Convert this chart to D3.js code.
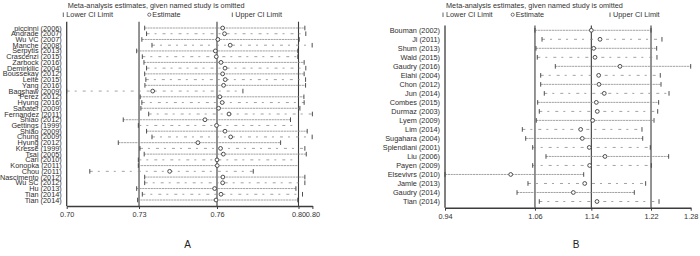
<!DOCTYPE html>
<html>
<head>
<meta charset="utf-8">
<script src="https://cdn.jsdelivr.net/npm/d3@7"></script>
<style>
body { margin: 0; background: #fff; }
text { font-family: "Liberation Sans", Arial, sans-serif; fill: #333; }
</style>
</head>
<body>
<script>
// panel A data
var studiesA = ["piccinni (2006)", "Andrade (2007)", "Wu VC (2007)", "Manche (2008)", "Serpytis (2013)",
    "Crascenzi (2015)", "Zarbock (2016)", "Demirkilic (2004)", "Boussekay (2012)", "Leite (2015)",
    "Yang (2016)", "Bagshaw (2009)", "Perez (2012)", "Hyung (2016)", "Sabater (2009)",
    "Fernandez (2011)", "Shiao (2012)", "Gettings (1999)", "Shiao (2009)", "Chung (2009)",
    "Hyung (2012)", "Kresse (1999)", "Tsai (2005)", "Cari (2010)", "Konopka (2011)",
    "Chou (2011)", "Nascimento (2012)", "Wu SC (2012)", "Hu (2013)", "Tian (2014)", "Tian (2014)"];
var lowerA = [0.7331, 0.7339, 0.7319, 0.7362, 0.7297, 0.7321, 0.7328, 0.7339, 0.7331, 0.7336,
    0.7332, 0.7000, 0.7312, 0.7319, 0.7315, 0.7348, 0.7240, 0.7304, 0.7339, 0.7362,
    0.7219, 0.7311, 0.7329, 0.7304, 0.7304, 0.7098, 0.7331, 0.7331, 0.7297, 0.7321, 0.7301];
var estA = [0.7662, 0.7670, 0.7642, 0.7694, 0.7631, 0.7635, 0.7655, 0.7672, 0.7662, 0.7673,
    0.7666, 0.7365, 0.7650, 0.7660, 0.7645, 0.7689, 0.7587, 0.7636, 0.7672, 0.7696,
    0.7557, 0.7653, 0.7665, 0.7638, 0.7639, 0.7437, 0.7663, 0.7662, 0.7628, 0.7655, 0.7634];
var upperA = [0.8011, 0.8015, 0.7987, 0.8042, 0.7981, 0.7981, 0.8008, 0.8015, 0.8008, 0.8014,
    0.8014, 0.7748, 0.8007, 0.8008, 0.7990, 0.8043, 0.7950, 0.7984, 0.8021, 0.8042,
    0.7908, 0.8011, 0.8017, 0.7984, 0.7984, 0.7792, 0.8011, 0.8011, 0.7973, 0.8001, 0.7981];
var overallA = [0.7307, 0.7638, 0.7984];
var ticksA = [0.7000, 0.7307, 0.7638, 0.7984, 0.8043];

// panel B data
var studiesB = ["Bouman (2002)", "Ji (2011)", "Shum (2013)", "Wald (2015)", "Gaudry (2016)",
    "Elahi (2004)", "Chon (2012)", "Jun (2014)", "Combes (2015)", "Durmaz (2003)",
    "Lyem (2009)", "Lim (2014)", "Sugahara (2004)", "Splendiani (2001)", "Liu (2006)",
    "Payen (2009)", "Elsevivrs (2010)", "Jamle (2013)", "Gaudry (2014)", "Tian (2014)"];
var lowerB = [1.0644, 1.0740, 1.0658, 1.0676, 1.0921, 1.0722, 1.0722, 1.0771, 1.0681, 1.0703,
    1.0662, 1.0472, 1.0518, 1.0613, 1.0794, 1.0613, 0.9420, 1.0549, 1.0400, 1.0703];
var estB = [1.1411, 1.1529, 1.1443, 1.1461, 1.1801, 1.1511, 1.1515, 1.1587, 1.1479, 1.1492,
    1.1429, 1.1266, 1.1288, 1.1383, 1.1597, 1.1388, 1.0314, 1.1321, 1.1166, 1.1488];
var upperB = [1.2223, 1.2372, 1.2300, 1.2304, 1.2763, 1.2349, 1.2359, 1.2468, 1.2327, 1.2314,
    1.2264, 1.2100, 1.2110, 1.2213, 1.2463, 1.2227, 1.1307, 1.2150, 1.1996, 1.2332];
var overallB = [1.0644, 1.1411, 1.2223];
var ticksB = [0.9420, 1.0644, 1.1411, 1.2223, 1.2763];

var svg = d3.select("body")
    .append("svg")
    .attr("width", 700)
    .attr("height", 256)
    .style("display", "block");

var fmt = d3.format(".2f");
var dark = "#3c3c3c";

function drawPanel(p) {
    var x = d3.scaleLinear().domain([p.ticks[0], p.ticks[p.ticks.length - 1]]).range([p.x0, p.x1]);
    var y = d3.scaleLinear().domain([0, p.studies.length - 1]).range([p.y0, p.y1]);
    var g = svg.append("g");

    // title and legend
    g.append("text").attr("x", p.x0 + 1).attr("y", 7.5)
        .style("font-size", "7.3px").text("Meta-analysis estimates, given named study is omitted");
    var leg = [
        {kind: "bar", x: p.legX[0], label: "Lower CI Limit"},
        {kind: "circle", x: p.legX[1], label: "Estimate"},
        {kind: "bar", x: p.legX[2], label: "Upper CI Limit"}
    ];
    leg.forEach(function (d) {
        if (d.kind == "bar") {
            g.append("line").attr("x1", d.x).attr("x2", d.x).attr("y1", 12.5).attr("y2", 17)
                .attr("stroke", dark).attr("stroke-width", 0.8);
        } else {
            g.append("circle").attr("cx", d.x).attr("cy", 14.7).attr("r", 1.6)
                .attr("fill", "none").attr("stroke", dark).attr("stroke-width", 0.7);
        }
        g.append("text").attr("x", d.x + 3).attr("y", 17.3)
            .style("font-size", "7.3px").text(d.label);
    });

    // overall lines
    g.selectAll(".overall").data(p.overall).enter().append("line")
        .attr("x1", function (d) { return x(d); }).attr("x2", function (d) { return x(d); })
        .attr("y1", p.top).attr("y2", p.base)
        .attr("stroke", dark).attr("stroke-width", 1.1);

    // y axis line
    g.append("line").attr("x1", p.x0).attr("x2", p.x0).attr("y1", p.top).attr("y2", p.base)
        .attr("stroke", dark).attr("stroke-width", 1.3);

    // x axis
    var xAxis = d3.axisBottom(x).tickValues(p.ticks).tickSize(3).tickSizeOuter(0).tickFormat(fmt);
    var ax = g.append("g").attr("transform", "translate(0," + p.base + ")").call(xAxis);
    ax.select(".domain").attr("stroke", dark).attr("stroke-width", 1.5);
    ax.selectAll(".tick line").attr("stroke", dark);
    ax.selectAll("text").attr("y", 6).style("font-size", "7.3px").style("fill", "#333")
        .style("font-family", "Liberation Sans, Arial, sans-serif");

    // study labels (they overlap in panel A, as in the source figure)
    g.selectAll(".lab").data(p.studies).enter().append("text")
        .attr("x", p.labX).attr("y", function (d, i) { return y(i); })
        .attr("dy", "0.35em").attr("text-anchor", "end")
        .style("font-size", "7.3px").style("fill", "#2e2e2e").text(function (d) { return d; });

    var rows = p.studies.map(function (s, i) {
        return {i: i, lo: p.lower[i], est: p.est[i], hi: p.upper[i]};
    });

    // CI lines
    g.selectAll(".ci").data(rows).enter().append("line")
        .attr("x1", function (d) { return x(d.lo); }).attr("x2", function (d) { return x(d.hi); })
        .attr("y1", function (d) { return y(d.i); }).attr("y2", function (d) { return y(d.i); })
        .attr("stroke", "#8a8a8a").attr("stroke-width", 0.8)
        .attr("stroke-dasharray", function (d) { return d.i % 2 == 0 ? "2.2,0.6" : "3,5,2,6"; });

    // end bars
    ["lo", "hi"].forEach(function (k) {
        g.selectAll(".bar" + k).data(rows).enter().append("line")
            .attr("x1", function (d) { return x(d[k]); }).attr("x2", function (d) { return x(d[k]); })
            .attr("y1", function (d) { return y(d.i) - 2.3; }).attr("y2", function (d) { return y(d.i) + 2.3; })
            .attr("stroke", dark).attr("stroke-width", 0.9);
    });

    // estimates
    g.selectAll(".est").data(rows).enter().append("circle")
        .attr("cx", function (d) { return x(d.est); }).attr("cy", function (d) { return y(d.i); })
        .attr("r", 1.9).attr("fill", "#fff").attr("stroke", dark).attr("stroke-width", 0.9);

    // panel letter
    g.append("text").attr("x", p.letterX).attr("y", 248).attr("text-anchor", "middle")
        .style("font-size", "10px").style("fill", "#222").text(p.letter);
}

drawPanel({studies: studiesA, lower: lowerA, est: estA, upper: upperA, overall: overallA, ticks: ticksA,
    x0: 66.7, x1: 312.4, y0: 28, y1: 200, top: 21.7, base: 206, labX: 61.7,
    legX: [63.3, 149.3, 232.3], letter: "A", letterX: 187.5});

drawPanel({studies: studiesB, lower: lowerB, est: estB, upper: upperB, overall: overallB, ticks: ticksB,
    x0: 445, x1: 690.7, y0: 30.3, y1: 201.5, top: 25.5, base: 207.7, labX: 440,
    legX: [443, 512.7, 610], letter: "B", letterX: 576});
</script>
</body>
</html>
